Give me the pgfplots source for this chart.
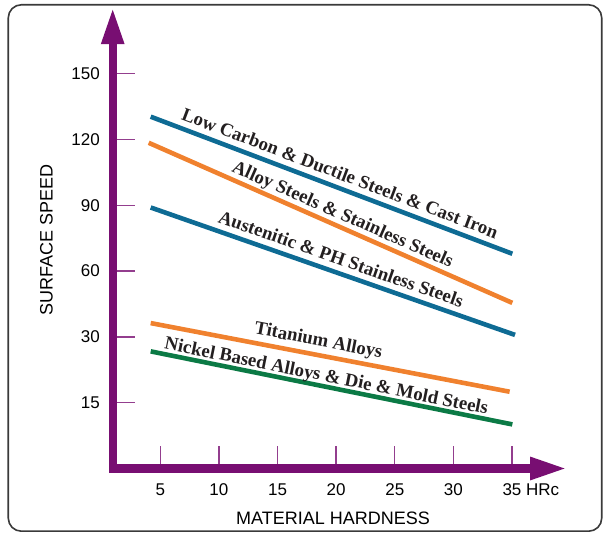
\documentclass[border=0pt]{standalone}
\usepackage{fontspec}
\setmainfont{Liberation Sans}
\newfontfamily\lblfont{Liberation Serif}
\usepackage{pgfplots}
\pgfplotsset{compat=1.18}
\usetikzlibrary{arrows.meta}

\definecolor{axpurple}{HTML}{780E72}
\definecolor{lineblue}{HTML}{0E6B94}
\definecolor{lineorange}{HTML}{F0812E}
\definecolor{linegreen}{HTML}{0B7A45}
\definecolor{framegray}{HTML}{3A3A3A}
\definecolor{txt}{HTML}{231F20}

\tikzset{lbl/.style={sloped, anchor=base, inner sep=0pt, text=txt,
    font=\lblfont\bfseries\fontsize{18.8}{20}\selectfont}}

\begin{document}
\begin{tikzpicture}
\begin{axis}[
    x=11.723pt, y=65.8pt,
    % speed scale: 0-30 at 15 per step, above 30 at 30 per step
    y coord trafo/.code={\pgfmathparse{#1<=30 ? #1/15 : 1+#1/30}},
    y coord inv trafo/.code={\pgfmathparse{#1<=2 ? #1*15 : (#1-1)*30}},
    xmin=0.94, xmax=39.7, ymin=0, ymax=180.3,
    axis lines=left,
    axis line style={line width=8.3pt, draw=axpurple, line cap=rect},
    x axis line style={-{Triangle[length=37pt,width=21pt]}},
    y axis line style={-{Triangle[length=37pt,width=21pt]}},
    tick align=inside,
    major tick length=22pt,
    tick style={line width=1.4pt, draw=axpurple!80!white},
    xtick={5,10,15,20,25,30,35},
    xticklabels={5,10,15,20,25,30,{35\rlap{\ HRc}}},
    ytick={15,30,60,90,120,150},
    yticklabels={15,30,60,90,120,150},
    tick label style={font=\fontsize{17}{20}\selectfont, inner sep=0pt},
    xticklabel style={anchor=north, yshift=-15pt},
    yticklabel style={anchor=east, xshift=-12.7pt},
    xlabel={MATERIAL HARDNESS},
    ylabel={SURFACE SPEED},
    xlabel style={at={(axis description cs:0.4848,-0.1073)}, anchor=center,
        font=\fontsize{18}{20}\selectfont},
    ylabel style={at={(axis description cs:-0.146,0.4964)}, anchor=center,
        font=\fontsize{18}{20}\selectfont},
]
\addplot[draw=lineblue, line width=4.6pt] coordinates {(4.18,130.4) (35.03,67.9)}
    node[lbl, pos=0.51, yshift=8pt] {Low Carbon \& Ductile Steels \& Cast Iron};
\addplot[draw=lineorange, line width=4.6pt] coordinates {(4.01,118.5) (35.03,45.5)}
    node[lbl, pos=0.52, yshift=7pt] {Alloy Steels \& Stainless Steels};
\addplot[draw=lineblue, line width=4.6pt] coordinates {(4.18,89.0) (35.26,30.9)}
    node[lbl, pos=0.51, yshift=8pt] {Austenitic \& PH Stainless Steels};
\addplot[draw=lineorange, line width=4.6pt] coordinates {(4.18,36.3) (34.8,17.5)}
    node[lbl, pos=0.46, yshift=9pt] {Titanium Alloys};
\addplot[draw=linegreen, line width=4.6pt] coordinates {(4.18,26.7) (35.03,10.05)}
    node[lbl, pos=0.48, yshift=5pt] {Nickel Based Alloys \& Die \& Mold Steels};
\coordinate (O) at (axis cs:0.94,0);
\end{axis}
\draw[framegray, line width=1.6pt, rounded corners=13pt]
    ([shift={(-104.4pt,-62.7pt)}]O) rectangle ([shift={(489pt,463.7pt)}]O);
\useasboundingbox ([shift={(-112.7pt,-71.5pt)}]O) rectangle ([shift={(492.3pt,468.5pt)}]O);
\end{tikzpicture}
\end{document}
